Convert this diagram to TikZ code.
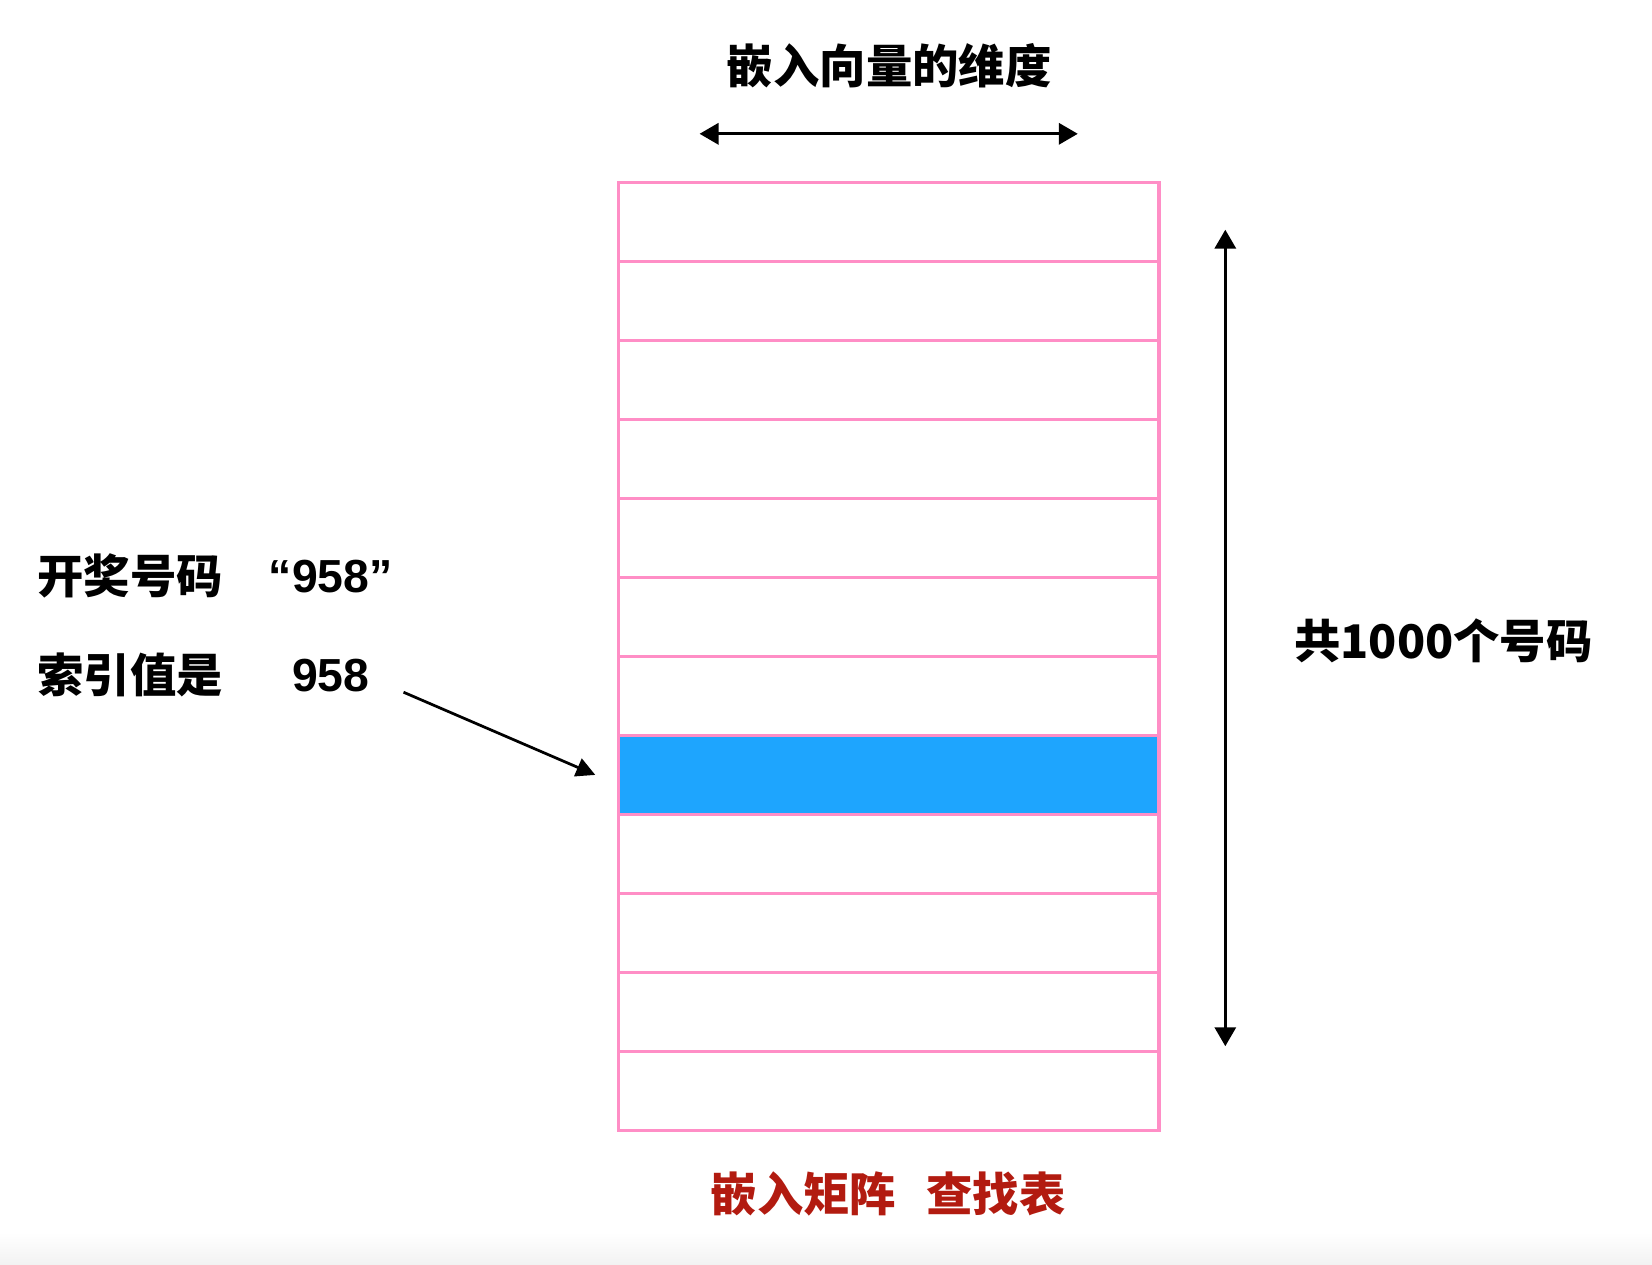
\documentclass[tikz,border=0pt]{standalone}
\usepackage{fontspec}
\setmainfont{Liberation Sans}
\newfontfamily\cjk{Noto Sans CJK SC}
\usepackage{xcolor}
\usepackage{tikz}
\usetikzlibrary{arrows.meta,positioning,calc}
\definecolor{rowpink}{HTML}{FF8EC6}
\definecolor{pickblue}{HTML}{1EA5FE}
\definecolor{tablered}{HTML}{B21B10}

\begin{document}
\begin{tikzpicture}[
    x=0.5pt, y=-0.5pt,
    row/.style={draw=rowpink, line width=1.5pt, minimum width=256.5pt, minimum height=37.5pt, inner sep=0pt, outer sep=0pt},
    hitrow/.style={row, fill=pickblue},
    txt/.style={font=\cjk\bfseries\fontsize{22}{26}\selectfont, inner sep=0pt},
    num/.style={font=\bfseries\fontsize{22}{26}\selectfont, inner sep=0pt},
    dim/.style={{Triangle[length=9pt,width=10pt]}-{Triangle[length=9pt,width=10pt]}, line width=1.5pt},
    arrow/.style={-{Triangle[length=9pt,width=9pt]}, line width=1.3pt}
]
\useasboundingbox (0,0) rectangle (1568,1200);
\shade[top color=white, bottom color=black!5] (0,1170) rectangle (1568,1200);

% the lookup table, 12 rows
\foreach \i in {1,...,12} {
    \node[row] (row\i) at (843.5, 135.5+75*\i) {};
}
\node[hitrow] at (row8) {};

% width of the embedding
\node[txt] (dimtext) at (844, 62) {嵌入向量的维度};
\coordinate (dimL) at (664, 127);
\coordinate (dimR) at (1023, 127);
\draw[dim] (dimL) -- (dimR);

% number of rows
\coordinate (cntT) at (1163, 218);
\coordinate (cntB) at (1163, 993);
\draw[dim] (cntT) -- (cntB);
\node[txt] (count) at (1370, 608) {共1000个号码};

% the lottery number and its index
\node[txt, anchor=west] (draw) at (35, 547) {开奖号码};
\node[num] (drawnum) at (314, 547) {“958”};
\node[txt, anchor=west] (index) at (35, 641) {索引值是};
\node[num] (indexnum) at (314, 641) {958};
\coordinate (pick) at (383, 657);
\draw[arrow] (pick) -- ([xshift=-11pt]row8.west);

\node[txt, text=tablered] (caption) at (843, 1133) {嵌入矩阵\hspace{0.65em}查找表};
\end{tikzpicture}
\end{document}
